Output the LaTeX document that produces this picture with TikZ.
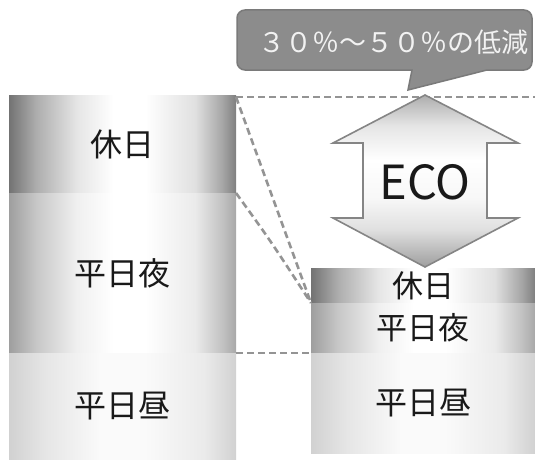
\documentclass[tikz,border=0pt]{standalone}
\usepackage{fontspec}
\newfontfamily\jp{Noto Sans CJK JP}
\pgfdeclarehorizontalshading{darkshade}{100bp}{color(0bp)=(black!55); color(25bp)=(black!55); color(31bp)=(black!32); color(40bp)=(black!10); color(48bp)=(white); color(55bp)=(white); color(66bp)=(black!12); color(72bp)=(black!35); color(75bp)=(black!50); color(100bp)=(black!50)}
\pgfdeclarehorizontalshading{midshade}{100bp}{color(0bp)=(black!38); color(25bp)=(black!38); color(31bp)=(black!22); color(40bp)=(black!6); color(48bp)=(white); color(55bp)=(white); color(66bp)=(black!8); color(72bp)=(black!24); color(75bp)=(black!34); color(100bp)=(black!34)}
\pgfdeclarehorizontalshading{lightshade}{100bp}{color(0bp)=(black!18); color(25bp)=(black!18); color(33bp)=(black!10); color(45bp)=(black!2); color(55bp)=(black!2); color(68bp)=(black!8); color(75bp)=(black!18); color(100bp)=(black!18)}
\pgfdeclareverticalshading{ecoshade}{100bp}{color(0bp)=(black!38); color(25bp)=(black!38); color(36bp)=(black!12); color(45bp)=(black!3); color(56bp)=(white); color(66bp)=(black!10); color(75bp)=(black!32); color(100bp)=(black!32)}
\begin{document}
\begin{tikzpicture}[x=1pt,y=-1pt,
  block/.style={inner sep=0pt, outer sep=0pt, anchor=north west, font=\jp\fontsize{32}{34}\selectfont, text=black!90},
  dark/.style={block, shading=darkshade},
  mid/.style={block, shading=midshade},
  light/.style={block, shading=lightshade},
  guide/.style={draw=black!42, line width=2.6pt, dash pattern=on 7pt off 4pt},
  callout/.style={fill=black!45, draw=black!52, line width=1.5pt},
  eco/.style={draw=black!48, line width=1.6pt, shading=ecoshade}
]
\useasboundingbox (0,0) rectangle (535,460);
% left column
\node[dark, minimum width=227pt, minimum height=98pt] (lh) at (9,95) {休日};
\node[mid, minimum width=227pt, minimum height=160pt] (ln) at (9,193) {平日夜};
\node[light, minimum width=227pt, minimum height=107pt] (ld) at (9,353) {平日昼};
% right column
\node[dark, minimum width=224pt, minimum height=35pt, font=\jp\fontsize{31}{33}\selectfont] (rh) at (311,268) {休日};
\node[mid, minimum width=224pt, minimum height=50pt, font=\jp\fontsize{31}{33}\selectfont] (rn) at (311,303) {平日夜};
\node[light, minimum width=224pt, minimum height=100pt] (rd) at (311,353) {平日昼};
% guides
\coordinate (te) at (535,97);
\draw[guide] (lh.north east) ++(0,2) -- (te);
\draw[guide] (lh.north east) ++(0,2) -- (rh.south west);
\draw[guide] (lh.south east) .. controls (270,240) .. (rh.south west);
\draw[guide] (ln.south east) -- (rn.south west);
% ECO arrow
\draw[eco] (425,95) -- (518,143) -- (487,143) -- (487,218) -- (518,218) -- (425,267) -- (333,218) -- (363,218) -- (363,143) -- (333,143) -- cycle;
\node[font=\jp\fontsize{47}{49}\selectfont, text=black!90] (eco) at (425,182) {ECO};
% callout
\draw[callout] (412,70) -- (408,90) -- (487,70) [rounded corners=8pt] -- (532,70) -- (532,10) -- (237,10) -- (237,70) [sharp corners] -- cycle;
\node[font=\jp\fontsize{27}{29}\selectfont, text=black!5] (cal) at (393,42) {３０％～５０％の低減};
\end{tikzpicture}
\end{document}
